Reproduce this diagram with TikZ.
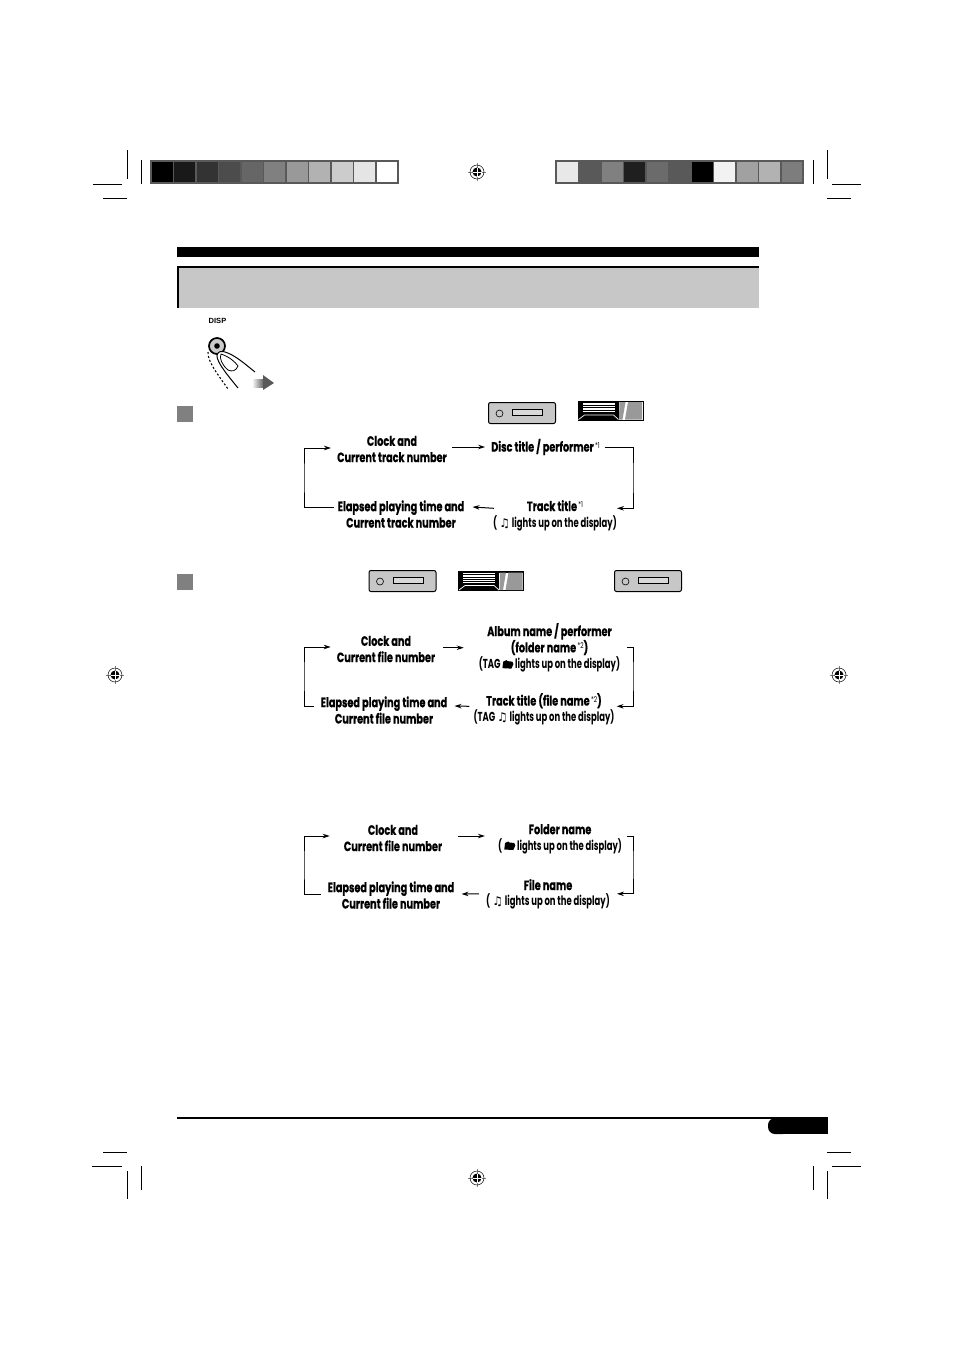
\documentclass[tikz,border=0pt]{standalone}
\usepackage{fontspec}
\usepackage{tikz}
\usetikzlibrary{arrows.meta, calc}
\newfontfamily\flowfont[FakeStretch=0.72,BoldFeatures={FakeBold=0.5}]{Poppins}
\newfontfamily\lightfont[FakeStretch=0.65]{Poppins}
\newfontfamily\symfont{DejaVu Sans}
\setsansfont{Liberation Sans}
\newcommand{\notesym}{{\symfont\bfseries\fontsize{12}{12}\selectfont\symbol{"266B}}}
\newcommand{\foldersym}{\tikz[baseline=0pt,x=1pt,y=1pt]{\fill (0,0.5) -- (0.8,7) -- (4,8.5) -- (5,7.5) -- (10,7) -- (11,4.5) -- (9,0) -- cycle;}}
\newcommand{\footmark}[1]{\raisebox{3.5pt}{\fontsize{8}{8}\selectfont\mdseries\,*#1}}
\newcommand{\flownote}{\lightfont\fontsize{13}{16}\selectfont}
\tikzset{
    flowtext/.style={font=\flowfont\bfseries\fontsize{13.5}{16.3}\selectfont, align=center, inner sep=0pt},
    flowline/.style={line width=1pt, -{Stealth[length=7pt,width=4.5pt]}},
    cropline/.style={line width=0.9pt},
    regmark/.pic={
        \draw[gray, line width=0.5pt] (-9,0) -- (9,0) (0,-9) -- (0,9);
        \draw[line width=0.5pt] (0,0) circle (7);
        \fill (0,0) circle (4.5);
        \draw[white, line width=0.7pt] (-4.5,0) -- (4.5,0) (0,-4.5) -- (0,4.5);
    },
    deckicon/.pic={
        \draw[fill=black!22, line width=1pt, rounded corners=2pt] (0,0) rectangle (67,21);
        \draw[line width=0.6pt] (11,11) circle (3.5);
        \draw[fill=black!15, line width=0.8pt] (24,7) rectangle (54,13);
    },
    screenicon/.pic={
        \fill (0,0) rectangle (66,20);
        \foreach \row in {2,3.7,...,12} {
            \fill[white] (5,\row) rectangle (37,\row+1);
        }
        \draw[white, line width=0.7pt] (1,19) -- (7,14.5) -- (36,14.5) -- (41,19);
        \fill[white] (41,1.5) rectangle (65,19);
        \fill[black!40] (42,1.5) -- (48,1.5) -- (45,19) -- (41.5,19) -- cycle;
        \fill[black!40] (50.5,1.5) -- (64.5,1.5) -- (64.5,19) -- (47.5,19) -- cycle;
    },
}
\begin{document}
\begin{tikzpicture}[x=1pt, y=-1pt]
    \useasboundingbox (0,0) rectangle (954,1350);

    % colour bars
    \fill[black!65] (150,160) rectangle (399,184);
    \foreach \val [count=\i from 0] in {100,90,80,70,60,50,40,30,20,10,0} {
        \fill[black!\val] (152+\i*22.45,162) rectangle (172.9+\i*22.45,182);
    }
    \fill[black!65] (555,160) rectangle (804,184);
    \foreach \val [count=\i from 0] in {9,65,50,88,58,65,100,5,37,30,51} {
        \fill[black!\val] (557+\i*22.45,162) rectangle (577.9+\i*22.45,182);
    }

    % crop marks
    \draw[cropline] (127,150) -- (127,179) (141,160) -- (141,184) (93,184) -- (122,184) (103,198) -- (127,198);
    \draw[cropline] (813,160) -- (813,184) (827,150) -- (827,179) (832,184) -- (861,184) (827,198) -- (851,198);
    \draw[cropline] (103,1152) -- (127,1152) (92,1166) -- (122,1166) (127,1171) -- (127,1199) (141,1166) -- (141,1190);
    \draw[cropline] (827,1152) -- (851,1152) (832,1166) -- (861,1166) (827,1171) -- (827,1199) (813,1166) -- (813,1190);
    \pic at (477,172) {regmark};
    \pic at (115,675) {regmark};
    \pic at (839,675) {regmark};
    \pic at (477,1178) {regmark};

    % heading
    \fill (177,247) rectangle (759,257);
    \fill[black!22] (177,266) rectangle (759,308);
    \draw[line width=2pt] (178,308) -- (178,267) -- (759,267);

    % button
    \node[font=\sffamily\bfseries\fontsize{7.5}{7.5}\selectfont, inner sep=0pt] (disp) at (217.5,321) {DISP};
    \draw[fill=black!20, line width=1.7pt] (217,346) circle (8);
    \fill (217,346) circle (2.8);
    \draw[line width=1.1pt, dash pattern=on 2pt off 2pt] (208,352) .. controls (207,362) and (222,380) .. (228,389);
    \draw[line width=1pt, fill=white] (238,388) .. controls (230,378) and (216,362) .. (217,355) .. controls (218,351) and (222,351) .. (225,352) .. controls (235,355) and (245,364) .. (255,372);
    \draw[line width=0.8pt] (221,354) .. controls (230,357) and (235,362) .. (238,366) .. controls (236,371) and (232,372) .. (228,370) .. controls (222,365) and (219,358) .. (221,354);
    \shade[left color=white, right color=black!65] (252,379) rectangle (264,387);
    \fill[black!65] (263,375) -- (274,383) -- (263,390) -- cycle;

    % section squares and icons
    \fill[black!50] (177,406) rectangle (193,422);
    \fill[black!50] (177,574) rectangle (193,590);
    \pic at (488.5,402.5) {deckicon};
    \pic at (577.5,400.5) {screenicon};
    \pic at (369,570.5) {deckicon};
    \pic at (458,571) {screenicon};
    \pic at (614.5,570.5) {deckicon};

    % first loop
    \node[flowtext] (clockA) at (392,449) {Clock and\\Current track number};
    \node[flowtext] (discA) at (545.5,447) {Disc title / performer\footmark{1}};
    \node[flowtext, anchor=north] (trackA) at (555,500) {Track title\footmark{1}\\[0.5pt]{\flownote(\,\notesym\ lights up on the display)}};
    \node[flowtext] (elapsedA) at (401,514) {Elapsed playing time and\\Current track number};
    \coordinate (leftA) at (304,478);
    \coordinate (rightA) at (633,478);
    \draw[flowline] (clockA.east |- discA.west) ++(5,0) -- ([xshift=-6pt]discA.west);
    \draw[flowline] ([xshift=5pt]discA.east) -| (rightA) |- ([yshift=7.5pt]trackA.east);
    \draw[flowline] ([xshift=1pt,yshift=7.5pt]trackA.west) -- ([xshift=8pt,yshift=7pt]elapsedA.east);
    \draw[flowline] ([xshift=-4pt,yshift=7pt]elapsedA.west) -| (leftA) |- ([xshift=-6pt,yshift=1pt]clockA.west);

    % second loop
    \node[flowtext] (clockB) at (386,649) {Clock and\\Current file number};
    \node[flowtext, anchor=north] (albumB) at (549.5,623) {Album name / performer\\(folder name\footmark{2})\\{\flownote(TAG \foldersym\ lights up on the display)}};
    \node[flowtext, anchor=north] (trackB) at (544,693) {Track title (file name\footmark{2})\\{\flownote(TAG \notesym\ lights up on the display)}};
    \node[flowtext] (elapsedB) at (384,710) {Elapsed playing time and\\Current file number};
    \coordinate (leftB) at (304,676);
    \coordinate (rightB) at (633,676);
    \draw[flowline] (clockB.east |- albumB.center) ++(8,0) -- ([xshift=-15pt]albumB.west |- albumB.center);
    \draw[flowline] ([xshift=7pt]albumB.east |- clockB.west) ++(0,-2) -| (rightB) |- ([xshift=2pt,yshift=3pt]trackB.east);
    \draw[flowline] ([xshift=-4pt,yshift=3pt]trackB.west) -- ([xshift=7pt,yshift=4pt]elapsedB.east);
    \draw[flowline] ([xshift=-7pt,yshift=4pt]elapsedB.west) -| (leftB) |- ([xshift=-6pt,yshift=2pt]clockB.west);

    % third loop
    \node[flowtext] (clockC) at (393,838) {Clock and\\Current file number};
    \node[flowtext, anchor=north] (folderC) at (560,824) {Folder name\\[-0.5pt]{\flownote(\,\foldersym\ lights up on the display)}};
    \node[flowtext, anchor=north] (fileC) at (548,879) {File name\\[-0.5pt]{\flownote(\,\notesym\ lights up on the display)}};
    \node[flowtext] (elapsedC) at (391,895) {Elapsed playing time and\\Current file number};
    \coordinate (leftC) at (304,865);
    \coordinate (rightC) at (633,865);
    \draw[flowline] (clockC.east |- folderC.north) ++(16,12) -- ([xshift=-13pt,yshift=-12pt]folderC.north west);
    \draw[flowline] ([xshift=5pt,yshift=-12pt]folderC.north east) -| (rightC) |- ([xshift=7pt,yshift=0.5pt]fileC.east);
    \draw[flowline] ([xshift=-7pt,yshift=0.5pt]fileC.west) -- ([xshift=7pt,yshift=1pt]elapsedC.east);
    \draw[flowline] ([xshift=-7pt,yshift=1pt]elapsedC.west) -| (leftC) |- ([xshift=-14pt,yshift=2pt]clockC.west);

    % foot
    \draw[line width=2pt] (177,1118) -- (828,1118);
    \fill[rounded corners=7pt] (790,1118) -- (768,1118) -- (768,1134) -- (790,1134) -- cycle;
    \fill (780,1118) rectangle (828,1134);
\end{tikzpicture}
\end{document}
